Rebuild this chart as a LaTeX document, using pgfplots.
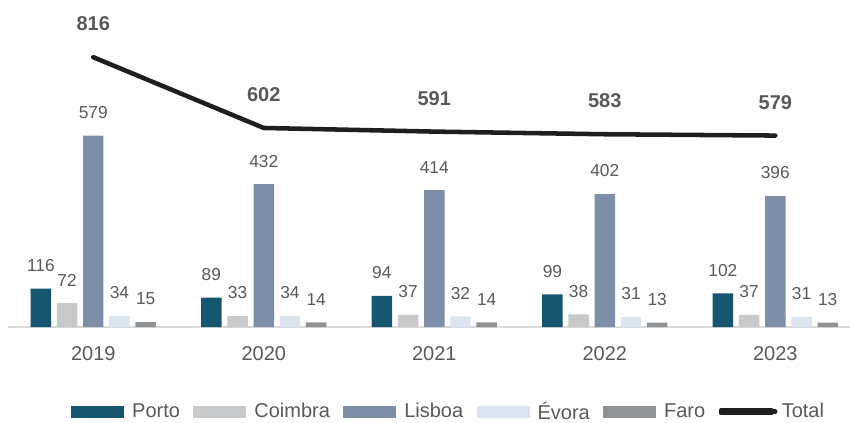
\documentclass[border=0pt]{standalone}
\usepackage{pgfplots}
\pgfplotsset{compat=1.18}
\usepackage{fontspec}
\setmainfont{Liberation Sans}
\definecolor{porto}{HTML}{165570}
\definecolor{coimbra}{HTML}{C8C9CA}
\definecolor{lisboa}{HTML}{7E8DA8}
\definecolor{evora}{HTML}{DAE5F0}
\definecolor{faro}{HTML}{909294}
\definecolor{totalc}{HTML}{1E1E1E}
\definecolor{txt}{HTML}{595959}
\definecolor{base}{HTML}{D9D9D9}
\begin{document}
\begin{tikzpicture}
\useasboundingbox (0,0) rectangle (637.5pt,316.5pt);
\begin{axis}[
  at={(6pt,71.25pt)}, anchor=south west,
  scale only axis, width=631.5pt, height=245.25pt,
  xmin=-0.5, xmax=4.438, ymin=0, ymax=989,
  clip=false,
  /pgf/number format/assume math mode=true,
  axis y line=none,
  axis x line=bottom,
  x axis line style={-, draw=base, line width=1.3pt},
  xtick={0,1,2,3,4},
  xticklabels={2019,2020,2021,2022,2023},
  major tick length=0pt,
  xtick style={draw=none},
  xticklabel style={font=\fontsize{15}{17}\selectfont, text=txt, anchor=north, inner sep=0pt, yshift=-14.5pt},
  bar width=0.12,
  nodes near coords,
  every node near coord/.append style={font=\fontsize{13}{15}\selectfont, text=txt, anchor=south, inner sep=0pt, yshift=12.5pt},
  legend columns=6,
  legend style={draw=none, fill=none, at={(0.0748,-0.259)}, anchor=west,
    font=\fontsize{15}{17}\selectfont, text=txt, inner sep=0pt,
    nodes={inner sep=0pt},
    /tikz/every odd column/.append style={column sep=6pt},
    /tikz/every even column/.append style={column sep=10pt}},
]
\addplot[ybar, fill=porto, draw=none, bar shift=-0.3074,
  every node near coord/.append style={xshift=-39.3pt},
  legend image code/.code={\fill[porto] (0pt,-4.5pt) rectangle (39.75pt,4.5pt);}]
  coordinates {(0,116) (1,89) (2,94) (3,99) (4,102)};
\addplot[ybar, fill=coimbra, draw=none, bar shift=-0.1537,
  every node near coord/.append style={xshift=-19.65pt},
  legend image code/.code={\fill[coimbra] (0pt,-4.5pt) rectangle (39.75pt,4.5pt);}]
  coordinates {(0,72) (1,33) (2,37) (3,38) (4,37)};
\addplot[ybar, fill=lisboa, draw=none, bar shift=0,
  legend image code/.code={\fill[lisboa] (0pt,-4.5pt) rectangle (39.75pt,4.5pt);}]
  coordinates {(0,579) (1,432) (2,414) (3,402) (4,396)};
\addplot[ybar, fill=evora, draw=none, bar shift=0.1537,
  every node near coord/.append style={xshift=19.65pt},
  legend image code/.code={\fill[evora] (0pt,-4.5pt) rectangle (39.75pt,4.5pt);}]
  coordinates {(0,34) (1,34) (2,32) (3,31) (4,31)};
\addplot[ybar, fill=faro, draw=none, bar shift=0.3074,
  every node near coord/.append style={xshift=39.3pt},
  legend image code/.code={\fill[faro] (0pt,-4.5pt) rectangle (39.75pt,4.5pt);}]
  coordinates {(0,15) (1,14) (2,14) (3,13) (4,13)};
\addplot[sharp plot, draw=totalc, line width=3.4pt, line cap=round, line join=round, mark=none,
  every node near coord/.append style={font=\bfseries\fontsize{15}{17}\selectfont, text=txt, yshift=5.5pt},
  legend image code/.code={\path (0pt,-1pt) rectangle (38pt,1pt);
    \draw[overlay, totalc, line width=3.4pt, line cap=round] (1.7pt,0pt) -- (40.8pt,0pt);}]
  coordinates {(0,816) (1,602) (2,591) (3,583) (4,579)};
\legend{Porto,Coimbra,Lisboa,Évora,Faro,Total}
\end{axis}
\end{tikzpicture}
\end{document}
